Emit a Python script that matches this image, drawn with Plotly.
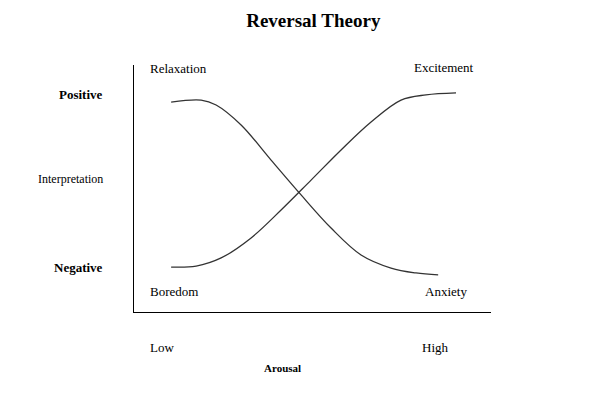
import plotly.graph_objects as go

relax_x = [1.04, 1.88, 2.30, 3.00, 3.84, 4.68, 5.52, 6.36, 7.20, 7.90, 8.52]
relax_y = [8.50, 8.58, 8.38, 7.57, 6.15, 4.74, 3.40, 2.31, 1.78, 1.58, 1.50]
bore_x = [1.04, 1.74, 2.44, 3.28, 4.12, 4.96, 5.80, 6.64, 7.48, 8.18, 9.02]
bore_y = [1.82, 1.86, 2.19, 3.00, 4.13, 5.34, 6.56, 7.69, 8.58, 8.79, 8.87]

F = "Liberation Serif, Times New Roman, serif"
fig = go.Figure()
for xs, ys in [(relax_x, relax_y), (bore_x, bore_y)]:
    fig.add_trace(go.Scatter(x=xs, y=ys, mode="lines", line=dict(color="#333", width=1.3, shape="spline"),
                             showlegend=False, hoverinfo="skip"))

def ann(text, x, y, xa="left", size=13, bold=False):
    fig.add_annotation(x=x / 10, y=y / 10, xref="paper", yref="paper", text=f"<b>{text}</b>" if bold else text,
                       showarrow=False, xanchor=xa, yanchor="middle",
                       font=dict(family=F, size=size, color="black"))

ann("Relaxation", 0.39, 9.85)
ann("Excitement", 7.8, 9.9)
ann("Boredom", 0.39, 0.85)
ann("Anxiety", 8.1, 0.85)
ann("Positive", -0.8, 8.8, xa="right", bold=True)
ann("Negative", -0.8, 1.82, xa="right", bold=True)
ann("Interpretation", -0.8, 5.4, xa="right", size=12)
ann("Low", 0.39, -1.45)
ann("High", 8.0, -1.45)
ann("Arousal", 4.15, -2.25, xa="center", size=11, bold=True)

fig.update_layout(
    width=594, height=400, paper_bgcolor="white", plot_bgcolor="white",
    margin=dict(l=126, r=111, t=57, b=96),
    title=dict(text="<b>Reversal Theory</b>", x=0.514, xanchor="center", y=0.985, yanchor="top",
               font=dict(family=F, size=19, color="black")),
    xaxis=dict(range=[0, 10], showgrid=False, zeroline=False, showticklabels=False, ticks="",
               showline=True, linecolor="black", linewidth=1),
    yaxis=dict(range=[0, 10], showgrid=False, zeroline=False, showticklabels=False, ticks="",
               showline=True, linecolor="black", linewidth=1),
)
fig.write_html("out.html")
